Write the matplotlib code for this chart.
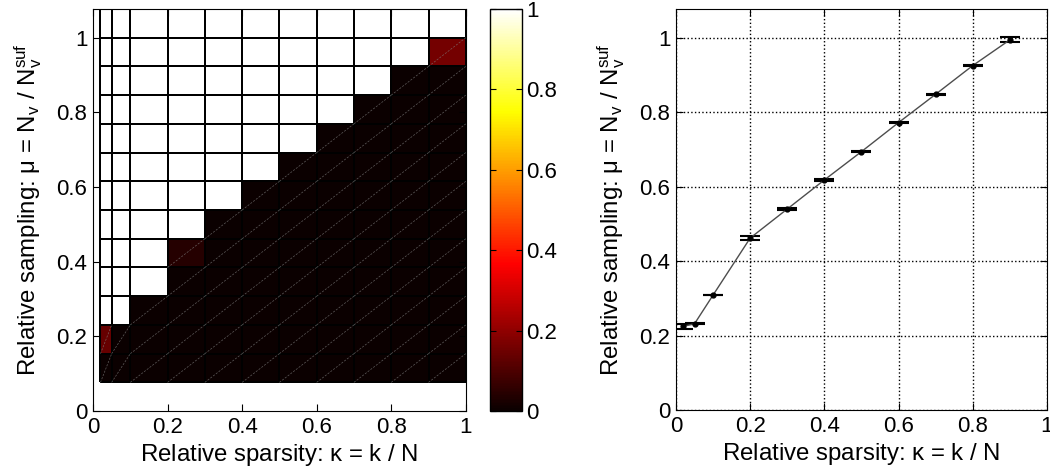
import numpy as np
import matplotlib
matplotlib.use('Agg')
from matplotlib import pyplot as plt

plt.rcParams['font.family'] = ['Liberation Sans', 'DejaVu Sans']
plt.rcParams['mathtext.fontset'] = 'custom'
plt.rcParams['mathtext.rm'] = 'Liberation Sans'
plt.rcParams['mathtext.it'] = 'Liberation Sans'
FS = 16
LFS = 17.3

# grid edges of the phase diagram
kappa_edges = [0.02, 0.05, 0.1, 0.2, 0.3, 0.4, 0.5, 0.6, 0.7, 0.8, 0.9, 1.0]
mu_edges = [k / 13 for k in range(1, 15)]

# success rate per cell, rows from bottom (mu) and columns (kappa)
success = [
    [0.00, 0, 0, 0, 0, 0, 0, 0, 0, 0, 0],
    [0.14, 0, 0, 0, 0, 0, 0, 0, 0, 0, 0],
    [1, 1, 0, 0, 0, 0, 0, 0, 0, 0, 0],
    [1, 1, 1, 0, 0, 0, 0, 0, 0, 0, 0],
    [1, 1, 1, 0.04, 0, 0, 0, 0, 0, 0, 0],
    [1, 1, 1, 1, 0, 0, 0, 0, 0, 0, 0],
    [1, 1, 1, 1, 1, 0, 0, 0, 0, 0, 0],
    [1, 1, 1, 1, 1, 1, 0, 0, 0, 0, 0],
    [1, 1, 1, 1, 1, 1, 1, 0, 0, 0, 0],
    [1, 1, 1, 1, 1, 1, 1, 1, 0, 0, 0],
    [1, 1, 1, 1, 1, 1, 1, 1, 1, 0, 0],
    [1, 1, 1, 1, 1, 1, 1, 1, 1, 1, 0.16],
    [1, 1, 1, 1, 1, 1, 1, 1, 1, 1, 1],
]

# transition curve (right panel)
kappa = [0.02, 0.05, 0.1, 0.2, 0.3, 0.4, 0.5, 0.6, 0.7, 0.8, 0.9]
mu = [0.225, 0.232, 0.309, 0.462, 0.540, 0.618, 0.694, 0.772, 0.848, 0.925, 0.994]
mu_err = [0.007, 0.002, 0.001, 0.006, 0.002, 0.002, 0.002, 0.002, 0.002, 0.002, 0.007]

ticks = [0, 0.2, 0.4, 0.6, 0.8, 1]
tick_labels = ['0', '0.2', '0.4', '0.6', '0.8', '1']
xlab = r'Relative sparsity: $\kappa$ = k / N'
ylab = r'Relative sampling: $\mu$ = N$_\mathrm{v}$ / N$_\mathrm{v}^\mathrm{suf}$'

fig = plt.figure(figsize=(10.5, 4.72), dpi=100)
ax1 = fig.add_axes([0.0886, 0.129, 0.355, 0.852])
cax = fig.add_axes([0.4667, 0.129, 0.0305, 0.852])
ax2 = fig.add_axes([0.6438, 0.131, 0.3533, 0.850])

C = np.array(success)
mesh = ax1.pcolormesh(kappa_edges, mu_edges, C, cmap='hot', vmin=0, vmax=1,
                      edgecolors='k', linewidth=1.2)
# faint seams along cell diagonals in the dark area
for i in range(C.shape[0]):
    for j in range(C.shape[1]):
        if C[i, j] < 0.5:
            ax1.plot([kappa_edges[j], kappa_edges[j + 1]], [mu_edges[i], mu_edges[i + 1]],
                     color='0.5', lw=0.5, ls=(0, (3, 2)), alpha=0.7)

for ax in (ax1, ax2):
    ax.set_xlim(0, 1)
    ax.set_ylim(0, 14 / 13)
    ax.set_xticks(ticks)
    ax.set_yticks(ticks)
    ax.set_xticklabels(tick_labels)
    ax.set_yticklabels(tick_labels)
    ax.tick_params(direction='in', top=True, right=True, length=5, labelsize=FS, pad=4)
    ax.set_xlabel(xlab, fontsize=LFS, labelpad=3)
    ax.set_ylabel(ylab, fontsize=LFS, labelpad=9)

cb = fig.colorbar(mesh, cax=cax, ticks=ticks)
cb.ax.set_yticklabels(tick_labels)
cb.ax.tick_params(direction='in', left=True, right=True, length=4, labelsize=FS, pad=3)
cb.outline.set_linewidth(1)

ax2.errorbar(kappa, mu, yerr=mu_err, color='0.3', lw=1, marker='o', ms=3.5,
             mfc='k', mec='k', ecolor='k', elinewidth=1.2, capsize=7.5, capthick=1.5)
ax2.grid(True, color='k', ls=':', lw=1)

fig.savefig('out.png', dpi=100)
